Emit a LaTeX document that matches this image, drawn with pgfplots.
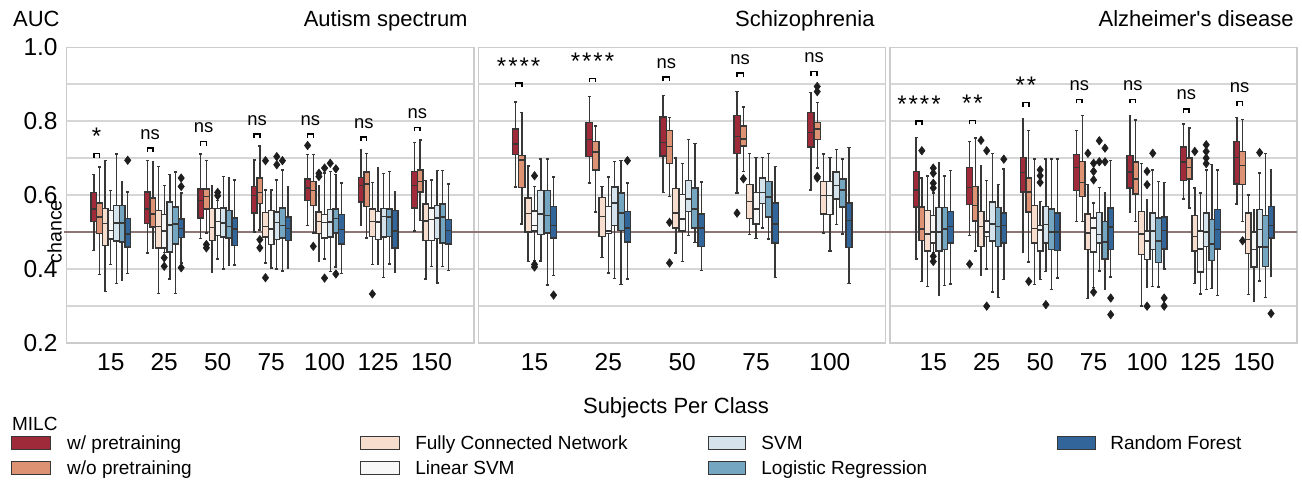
\documentclass[border=0pt]{standalone}
\usepackage{fontspec}
\setmainfont{Liberation Sans}
\newfontfamily\plainfont{Liberation Sans}
\usepackage{pgfplots}
\pgfplotsset{compat=1.18}
\usepgfplotslibrary{statistics}

\definecolor{c0}{RGB}{159,43,58}
\definecolor{c1}{RGB}{221,146,116}
\definecolor{c2}{RGB}{246,221,206}
\definecolor{c3}{RGB}{247,247,247}
\definecolor{c4}{RGB}{213,228,236}
\definecolor{c5}{RGB}{116,166,194}
\definecolor{c6}{RGB}{50,102,155}
\definecolor{boxline}{RGB}{55,55,55}
\definecolor{outc}{RGB}{30,30,30}
\definecolor{gridc}{RGB}{214,214,214}
\definecolor{framec}{RGB}{204,204,204}
\definecolor{chancec}{RGB}{140,118,118}

\newcommand\ticksize{\fontsize{12.25}{14}\selectfont}
\newcommand\labsize{\fontsize{11}{13}\selectfont}
\newcommand\legsize{\fontsize{9.5}{11}\selectfont}
\newcommand\sigfont{\fontsize{9.2}{11}\selectfont}
\protected\def\onestar{{\fontsize{12}{14}\selectfont *}}
\protected\def\twostar{{\fontsize{12}{14}\selectfont *\kern1pt*}}
\protected\def\fourstar{{\fontsize{12}{14}\selectfont *\kern1pt*\kern1pt*\kern1pt*}}

\newcommand\MYoff{0}\newcommand\MYspace{0}\newcommand\MYw{0}
\newcommand\setpanel[3]{\def\MYoff{#1}\def\MYspace{#2}\def\MYw{#3}}

% x unit = 10 px.  #1 category, #2 series, #3 lower whisker, #4 q1, #5 median, #6 q3, #7 upper whisker, #8 outliers
\newcommand\bx[8]{%
  \pgfmathsetmacro\MYpos{\MYoff+#1*\MYspace+(#2+0.5)*\MYw}%
  \pgfmathsetmacro\MYhalf{0.5*\MYw}%
  \edef\MYtmp{\noexpand\addplot[boxplot prepared={draw position=\MYpos, lower whisker=#3, lower quartile=#4, median=#5, upper quartile=#6, upper whisker=#7, box extend=\MYw, whisker extend=\MYhalf}, fill=c#2, draw=boxline, line width=0.7pt, mark=diamond*, mark size=2.1pt, mark options={fill=outc, draw=outc, line width=0.3pt}] coordinates {#8};}%
  \MYtmp}

% #1 category, #2 bracket height, #3 text
\newcommand\sig[3]{%
  \pgfmathsetmacro\MYsa{\MYoff+#1*\MYspace+0.5*\MYw}%
  \pgfmathsetmacro\MYsb{\MYoff+#1*\MYspace+1.5*\MYw}%
  \pgfmathsetmacro\MYsc{\MYoff+#1*\MYspace+\MYw}%
  \pgfmathsetmacro\MYsd{#2-0.011}%
  \edef\MYtmp{\noexpand\draw[black, line width=0.75pt] (axis cs:\MYsa,\MYsd) -- (axis cs:\MYsa,#2) -- (axis cs:\MYsb,#2) -- (axis cs:\MYsb,\MYsd); \noexpand\node[anchor=base, inner sep=0pt, yshift=4.5pt, font=\noexpand\sigfont] at (axis cs:\MYsc,#2) {#3};}%
  \MYtmp}

\pgfplotsset{panel/.style={
  scale only axis, width=203.5pt, height=147.7pt,
  xmin=0, xmax=40.7, ymin=0.2, ymax=1.0,
  clip=false, anchor=south west,
  boxplot/draw direction=y,
  axis line style={draw=framec, line width=0.8pt},
  ytick={0.2,0.4,0.6,0.8,1.0}, minor ytick={0.3,0.5,0.7,0.9},
  ymajorgrids, yminorgrids,
  major grid style={draw=gridc, line width=0.8pt},
  minor grid style={draw=gridc, line width=0.8pt},
  major tick length=0pt, minor tick length=0pt,
  xticklabel style={font=\ticksize, anchor=north, inner sep=0pt, yshift=-5.2pt},
}}

\begin{document}
\begin{tikzpicture}
% ---------------- Autism spectrum ----------------
\begin{axis}[panel, at={(33.35pt,70.15pt)},
  xtick={4.41,9.755,15.10,20.445,25.79,31.135,36.48},
  xticklabels={15,25,50,75,100,125,150},
  yticklabels={0.2,0.4,0.6,0.8,1.0},
  yticklabel style={font=\ticksize, anchor=east, inner sep=0pt, xshift=-4.35pt}]
\addplot[draw=chancec, line width=0.75pt, forget plot] coordinates {(-0.25,0.5) (40.95,0.5)};
\setpanel{2.43}{5.345}{0.565}
\bx{0}{0}{0.449}{0.528}{0.562}{0.607}{0.656}{}
\bx{0}{1}{0.384}{0.495}{0.540}{0.578}{0.676}{}
\bx{0}{2}{0.338}{0.464}{0.523}{0.563}{0.694}{}
\bx{0}{3}{0.411}{0.481}{0.504}{0.558}{0.613}{}
\bx{0}{4}{0.361}{0.475}{0.524}{0.571}{0.711}{}
\bx{0}{5}{0.368}{0.473}{0.524}{0.571}{0.635}{}
\bx{0}{6}{0.387}{0.459}{0.494}{0.537}{0.608}{(0,0.694)}
\bx{1}{0}{0.443}{0.523}{0.562}{0.608}{0.694}{}
\bx{1}{1}{0.457}{0.513}{0.549}{0.592}{0.691}{}
\bx{1}{2}{0.333}{0.457}{0.515}{0.558}{0.677}{}
\bx{1}{3}{0.445}{0.457}{0.503}{0.548}{0.625}{(0,0.430)(0,0.407)}
\bx{1}{4}{0.373}{0.446}{0.519}{0.581}{0.655}{}
\bx{1}{5}{0.333}{0.467}{0.522}{0.567}{0.662}{}
\bx{1}{6}{0.416}{0.485}{0.510}{0.535}{0.605}{(0,0.646)(0,0.623)(0,0.403)}
\bx{2}{0}{0.482}{0.538}{0.585}{0.616}{0.711}{}
\bx{2}{1}{0.497}{0.562}{0.596}{0.616}{0.693}{(0,0.466)(0,0.457)}
\bx{2}{2}{0.391}{0.477}{0.512}{0.563}{0.626}{}
\bx{2}{3}{0.427}{0.490}{0.529}{0.563}{0.585}{(0,0.607)(0,0.598)}
\bx{2}{4}{0.400}{0.486}{0.524}{0.565}{0.650}{}
\bx{2}{5}{0.409}{0.484}{0.515}{0.558}{0.648}{}
\bx{2}{6}{0.410}{0.464}{0.508}{0.538}{0.641}{}
\bx{3}{0}{0.500}{0.551}{0.599}{0.623}{0.695}{}
\bx{3}{1}{0.505}{0.577}{0.607}{0.646}{0.733}{(0,0.479)(0,0.457)}
\bx{3}{2}{0.416}{0.486}{0.515}{0.553}{0.614}{(0,0.693)(0,0.376)}
\bx{3}{3}{0.402}{0.466}{0.508}{0.558}{0.614}{}
\bx{3}{4}{0.400}{0.479}{0.526}{0.554}{0.641}{(0,0.704)(0,0.682)}
\bx{3}{5}{0.394}{0.484}{0.517}{0.565}{0.668}{(0,0.693)}
\bx{3}{6}{0.402}{0.477}{0.509}{0.540}{0.623}{}
\bx{4}{0}{0.518}{0.585}{0.619}{0.643}{0.709}{(0,0.734)}
\bx{4}{1}{0.497}{0.571}{0.612}{0.637}{0.709}{(0,0.461)}
\bx{4}{2}{0.421}{0.495}{0.529}{0.554}{0.625}{(0,0.659)(0,0.650)}
\bx{4}{3}{0.427}{0.484}{0.526}{0.548}{0.660}{(0,0.673)(0,0.375)}
\bx{4}{4}{0.393}{0.486}{0.527}{0.560}{0.664}{(0,0.686)}
\bx{4}{5}{0.405}{0.497}{0.536}{0.562}{0.655}{(0,0.671)(0,0.386)}
\bx{4}{6}{0.387}{0.467}{0.506}{0.547}{0.632}{}
\bx{5}{0}{0.518}{0.581}{0.625}{0.648}{0.722}{}
\bx{5}{1}{0.484}{0.569}{0.630}{0.662}{0.712}{}
\bx{5}{2}{0.412}{0.488}{0.529}{0.562}{0.634}{(0,0.332)}
\bx{5}{3}{0.412}{0.479}{0.527}{0.556}{0.673}{}
\bx{5}{4}{0.376}{0.486}{0.542}{0.563}{0.659}{}
\bx{5}{5}{0.413}{0.488}{0.540}{0.562}{0.664}{}
\bx{5}{6}{0.391}{0.457}{0.503}{0.558}{0.608}{}
\bx{6}{0}{0.503}{0.565}{0.626}{0.664}{0.743}{}
\bx{6}{1}{0.531}{0.608}{0.637}{0.668}{0.749}{}
\bx{6}{2}{0.373}{0.477}{0.530}{0.576}{0.639}{}
\bx{6}{3}{0.407}{0.477}{0.533}{0.565}{0.641}{}
\bx{6}{4}{0.362}{0.482}{0.538}{0.572}{0.666}{}
\bx{6}{5}{0.407}{0.470}{0.540}{0.576}{0.667}{}
\bx{6}{6}{0.396}{0.467}{0.504}{0.533}{0.630}{}
\sig{0}{0.712}{\onestar}
\sig{1}{0.727}{ns}
\sig{2}{0.745}{ns}
\sig{3}{0.765}{ns}
\sig{4}{0.765}{ns}
\sig{5}{0.757}{ns}
\sig{6}{0.783}{ns}
\end{axis}
% ---------------- Schizophrenia ----------------
\begin{axis}[panel, at={(239.15pt,70.15pt)},
  xtick={5.62,13.005,20.39,27.775,35.16},
  xticklabels={15,25,50,75,100},
  yticklabels={}]
\addplot[draw=chancec, line width=0.75pt, forget plot] coordinates {(-0.25,0.5) (40.95,0.5)};
\setpanel{3.4}{7.385}{0.635}
\bx{0}{0}{0.622}{0.709}{0.738}{0.779}{0.852}{}
\bx{0}{1}{0.522}{0.621}{0.695}{0.707}{0.824}{}
\bx{0}{2}{0.420}{0.500}{0.550}{0.592}{0.679}{}
\bx{0}{3}{0.422}{0.502}{0.517}{0.557}{0.623}{(0,0.652)(0,0.412)(0,0.405)}
\bx{0}{4}{0.421}{0.493}{0.549}{0.612}{0.698}{}
\bx{0}{5}{0.356}{0.497}{0.545}{0.612}{0.698}{}
\bx{0}{6}{0.382}{0.484}{0.517}{0.569}{0.649}{(0,0.329)}
\bx{1}{0}{0.632}{0.704}{0.751}{0.797}{0.867}{}
\bx{1}{1}{0.554}{0.668}{0.716}{0.745}{0.787}{}
\bx{1}{2}{0.430}{0.488}{0.542}{0.594}{0.623}{}
\bx{1}{3}{0.389}{0.495}{0.502}{0.569}{0.649}{}
\bx{1}{4}{0.374}{0.517}{0.578}{0.622}{0.691}{}
\bx{1}{5}{0.358}{0.504}{0.551}{0.605}{0.694}{}
\bx{1}{6}{0.373}{0.473}{0.511}{0.556}{0.632}{(0,0.693)}
\bx{2}{0}{0.607}{0.706}{0.743}{0.811}{0.870}{}
\bx{2}{1}{0.596}{0.686}{0.731}{0.774}{0.810}{(0,0.526)(0,0.416)}
\bx{2}{2}{0.443}{0.511}{0.551}{0.617}{0.700}{}
\bx{2}{3}{0.420}{0.502}{0.535}{0.601}{0.685}{}
\bx{2}{4}{0.490}{0.556}{0.589}{0.639}{0.751}{}
\bx{2}{5}{0.472}{0.511}{0.562}{0.619}{0.739}{}
\bx{2}{6}{0.395}{0.461}{0.511}{0.549}{0.635}{}
\bx{3}{0}{0.605}{0.712}{0.759}{0.815}{0.880}{(0,0.551)}
\bx{3}{1}{0.664}{0.733}{0.752}{0.787}{0.838}{(0,0.644)}
\bx{3}{2}{0.493}{0.536}{0.583}{0.628}{0.712}{}
\bx{3}{3}{0.482}{0.522}{0.562}{0.607}{0.702}{}
\bx{3}{4}{0.511}{0.577}{0.607}{0.646}{0.702}{}
\bx{3}{5}{0.481}{0.540}{0.595}{0.637}{0.712}{}
\bx{3}{6}{0.377}{0.470}{0.522}{0.578}{0.677}{}
\bx{4}{0}{0.614}{0.730}{0.769}{0.824}{0.877}{}
\bx{4}{1}{0.673}{0.750}{0.779}{0.796}{0.850}{(0,0.894)(0,0.880)(0,0.650)(0,0.646)}
\bx{4}{2}{0.497}{0.549}{0.598}{0.637}{0.711}{}
\bx{4}{3}{0.448}{0.547}{0.598}{0.637}{0.702}{}
\bx{4}{4}{0.520}{0.589}{0.625}{0.662}{0.724}{}
\bx{4}{5}{0.494}{0.567}{0.614}{0.643}{0.697}{}
\bx{4}{6}{0.360}{0.458}{0.531}{0.578}{0.729}{}
\sig{0}{0.903}{\fourstar}
\sig{1}{0.916}{\fourstar}
\sig{2}{0.919}{ns}
\sig{3}{0.930}{ns}
\sig{4}{0.934}{ns}
\end{axis}
% ---------------- Alzheimer's disease ----------------
\begin{axis}[panel, at={(445pt,70.15pt)},
  xtick={4.325,9.67,15.015,20.36,25.705,31.05,36.395},
  xticklabels={15,25,50,75,100,125,150},
  yticklabels={}]
\addplot[draw=chancec, line width=0.75pt, forget plot] coordinates {(-0.25,0.5) (40.7,0.5)};
\setpanel{2.33}{5.345}{0.57}
\bx{0}{0}{0.427}{0.567}{0.614}{0.664}{0.756}{}
\bx{0}{1}{0.366}{0.476}{0.508}{0.567}{0.646}{(0,0.720)}
\bx{0}{2}{0.353}{0.448}{0.494}{0.558}{0.652}{}
\bx{0}{3}{0.445}{0.470}{0.500}{0.545}{0.605}{(0,0.673)(0,0.659)(0,0.632)(0,0.619)(0,0.434)(0,0.420)}
\bx{0}{4}{0.328}{0.448}{0.500}{0.566}{0.688}{}
\bx{0}{5}{0.355}{0.452}{0.508}{0.566}{0.652}{}
\bx{0}{6}{0.359}{0.470}{0.515}{0.556}{0.666}{}
\bx{1}{0}{0.490}{0.574}{0.621}{0.675}{0.745}{(0,0.413)}
\bx{1}{1}{0.448}{0.530}{0.571}{0.623}{0.754}{}
\bx{1}{2}{0.383}{0.461}{0.515}{0.556}{0.679}{(0,0.748)}
\bx{1}{3}{0.400}{0.487}{0.500}{0.530}{0.640}{(0,0.720)(0,0.299)}
\bx{1}{4}{0.337}{0.475}{0.521}{0.581}{0.713}{}
\bx{1}{5}{0.322}{0.461}{0.515}{0.566}{0.628}{}
\bx{1}{6}{0.371}{0.470}{0.517}{0.551}{0.670}{(0,0.697)}
\bx{2}{0}{0.445}{0.608}{0.661}{0.702}{0.808}{}
\bx{2}{1}{0.419}{0.554}{0.608}{0.646}{0.774}{(0,0.366)}
\bx{2}{2}{0.357}{0.470}{0.509}{0.571}{0.697}{}
\bx{2}{3}{0.371}{0.448}{0.505}{0.518}{0.583}{(0,0.668)(0,0.652)(0,0.634)}
\bx{2}{4}{0.393}{0.470}{0.520}{0.569}{0.697}{(0,0.303)}
\bx{2}{5}{0.344}{0.452}{0.500}{0.562}{0.697}{}
\bx{2}{6}{0.375}{0.449}{0.500}{0.551}{0.697}{}
\bx{3}{0}{0.529}{0.612}{0.675}{0.709}{0.774}{}
\bx{3}{1}{0.529}{0.596}{0.634}{0.691}{0.815}{}
\bx{3}{2}{0.319}{0.452}{0.497}{0.549}{0.628}{(0,0.713)}
\bx{3}{3}{0.349}{0.446}{0.511}{0.538}{0.578}{(0,0.686)(0,0.664)(0,0.641)(0,0.337)}
\bx{3}{4}{0.394}{0.470}{0.493}{0.553}{0.620}{(0,0.747)(0,0.690)}
\bx{3}{5}{0.344}{0.427}{0.473}{0.529}{0.605}{(0,0.727)(0,0.690)}
\bx{3}{6}{0.378}{0.452}{0.513}{0.565}{0.694}{(0,0.321)(0,0.276)}
\bx{4}{0}{0.553}{0.619}{0.662}{0.707}{0.814}{}
\bx{4}{1}{0.529}{0.603}{0.643}{0.689}{0.803}{}
\bx{4}{2}{0.299}{0.439}{0.494}{0.556}{0.686}{}
\bx{4}{3}{0.349}{0.425}{0.475}{0.502}{0.587}{(0,0.664)(0,0.628)(0,0.299)}
\bx{4}{4}{0.353}{0.452}{0.502}{0.551}{0.668}{(0,0.713)}
\bx{4}{5}{0.351}{0.418}{0.475}{0.538}{0.637}{}
\bx{4}{6}{0.400}{0.454}{0.504}{0.540}{0.634}{(0,0.321)(0,0.299)}
\bx{5}{0}{0.589}{0.639}{0.689}{0.730}{0.792}{}
\bx{5}{1}{0.565}{0.643}{0.675}{0.700}{0.781}{}
\bx{5}{2}{0.360}{0.448}{0.488}{0.545}{0.619}{(0,0.718)}
\bx{5}{3}{0.332}{0.392}{0.454}{0.502}{0.605}{}
\bx{5}{4}{0.344}{0.461}{0.500}{0.551}{0.668}{(0,0.736)(0,0.718)(0,0.700)(0,0.685)}
\bx{5}{5}{0.346}{0.422}{0.467}{0.533}{0.682}{}
\bx{5}{6}{0.328}{0.454}{0.506}{0.560}{0.668}{}
\bx{6}{0}{0.576}{0.630}{0.702}{0.745}{0.810}{}
\bx{6}{1}{0.529}{0.628}{0.680}{0.718}{0.805}{(0,0.476)}
\bx{6}{2}{0.330}{0.441}{0.479}{0.551}{0.600}{}
\bx{6}{3}{0.313}{0.405}{0.452}{0.500}{0.560}{}
\bx{6}{4}{0.367}{0.459}{0.506}{0.560}{0.660}{(0,0.715)}
\bx{6}{5}{0.323}{0.407}{0.459}{0.545}{0.713}{}
\bx{6}{6}{0.380}{0.484}{0.517}{0.569}{0.668}{(0,0.279)}
\sig{0}{0.800}{\fourstar}
\sig{1}{0.802}{\twostar}
\sig{2}{0.850}{\twostar}
\sig{3}{0.859}{ns}
\sig{4}{0.859}{ns}
\sig{5}{0.833}{ns}
\sig{6}{0.853}{ns}
\end{axis}
% ---------------- texts ----------------
\node[anchor=base west, inner sep=0pt, font=\labsize] at (6.35pt,228.15pt) {AUC};
\node[anchor=base, rotate=90, inner sep=0pt, font=\fontsize{9.8}{11}\selectfont] at (30.85pt,125.65pt) {chance};
\node[anchor=base east, inner sep=0pt, font=\labsize] at (234pt,228.25pt) {Autism spectrum};
\node[anchor=base east, inner sep=0pt, font=\labsize] at (437.5pt,228.25pt) {Schizophrenia};
\node[anchor=base east, inner sep=0pt, font=\labsize\plainfont] at (647pt,228.25pt) {Alzheimer's disease};
\node[anchor=base, inner sep=0pt, font=\labsize] at (338pt,35pt) {Subjects Per Class};
% legend
\node[anchor=base west, inner sep=0pt, font=\legsize] at (5.85pt,26.5pt) {MILC};
\filldraw[fill=c0, draw=boxline, line width=0.5pt] (5.85pt,17pt) rectangle (25pt,23.5pt);
\filldraw[fill=c1, draw=boxline, line width=0.5pt] (5.85pt,4.35pt) rectangle (25pt,10.65pt);
\filldraw[fill=c2, draw=boxline, line width=0.5pt] (180.3pt,17pt) rectangle (199.5pt,23.5pt);
\filldraw[fill=c3, draw=boxline, line width=0.5pt] (180.3pt,4.35pt) rectangle (199.5pt,10.65pt);
\filldraw[fill=c4, draw=boxline, line width=0.5pt] (354pt,17pt) rectangle (372.7pt,23.5pt);
\filldraw[fill=c5, draw=boxline, line width=0.5pt] (354pt,4.35pt) rectangle (372.7pt,10.65pt);
\filldraw[fill=c6, draw=boxline, line width=0.5pt] (528.8pt,17pt) rectangle (547.5pt,23.5pt);
\node[anchor=base west, inner sep=0pt, font=\legsize] at (33.4pt,16.85pt) {w/ pretraining};
\node[anchor=base west, inner sep=0pt, font=\legsize] at (33.4pt,4.1pt) {w/o pretraining};
\node[anchor=base west, inner sep=0pt, font=\legsize] at (207.45pt,16.85pt) {Fully Connected Network};
\node[anchor=base west, inner sep=0pt, font=\legsize] at (207.45pt,4.1pt) {Linear SVM};
\node[anchor=base west, inner sep=0pt, font=\legsize] at (380.5pt,16.85pt) {SVM};
\node[anchor=base west, inner sep=0pt, font=\legsize] at (380.5pt,4.1pt) {Logistic Regression};
\node[anchor=base west, inner sep=0pt, font=\legsize] at (555pt,16.85pt) {Random Forest};
\pgfresetboundingbox
\useasboundingbox (0,0) rectangle (651pt,241.5pt);
\end{tikzpicture}
\end{document}
